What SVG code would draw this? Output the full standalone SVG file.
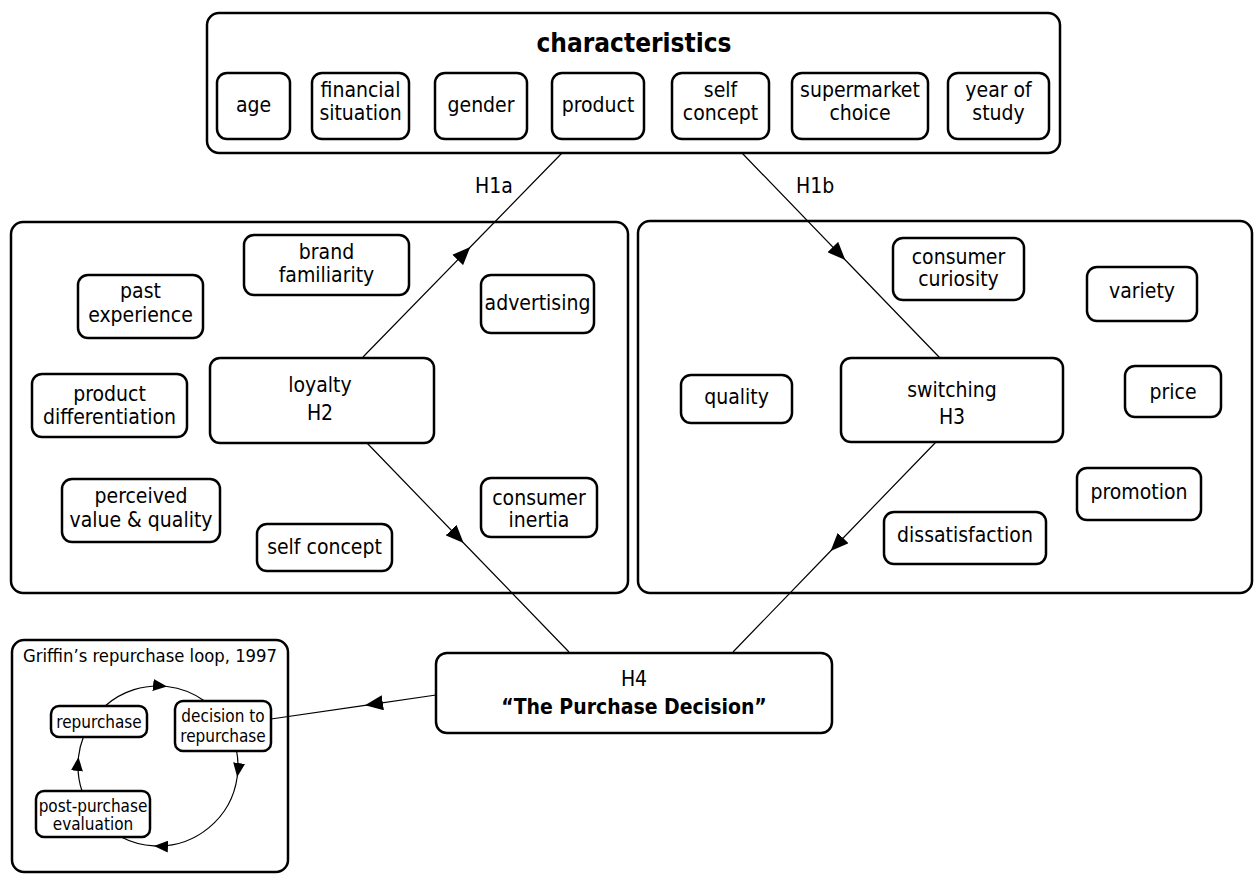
<svg xmlns="http://www.w3.org/2000/svg" width="1255" height="875" viewBox="0 0 1255 875">
<style>
.c{fill:none;stroke:#000;stroke-width:2.5}
.n{fill:#fff;stroke:#000;stroke-width:2.5}
.l{fill:none;stroke:#000;stroke-width:1.2}
text{font-family:"DejaVu Sans Condensed","Liberation Sans",sans-serif;fill:#000}
.t{font-size:21px;text-anchor:middle}
.h{font-size:21px}
.b{font-weight:bold;text-anchor:middle}
.s{font-size:17px;text-anchor:middle}
</style>
<defs>
<marker id="ah" markerUnits="userSpaceOnUse" markerWidth="18" markerHeight="15" viewBox="0 0 18 15" refX="18" refY="7.5" orient="auto"><path d="M0,0 L18,7.5 L0,15 z" fill="#000"/></marker>
<marker id="as" markerUnits="userSpaceOnUse" markerWidth="14" markerHeight="12" viewBox="0 0 14 12" refX="14" refY="6" orient="auto"><path d="M0,0 L14,6 L0,12 z" fill="#000"/></marker>
</defs>
<rect width="1255" height="875" fill="#fff"/>

<g id="containers">
<rect class="c" x="207" y="13" width="853" height="140" rx="12"/>
<rect class="c" x="11" y="222" width="617" height="371" rx="12"/>
<rect class="c" x="638" y="221" width="614" height="372" rx="12"/>
<rect class="c" x="12" y="640" width="276" height="232" rx="12"/>
</g>

<g id="connectors">
<path class="l" d="M363,357 L470.3,247 L562,153" marker-mid="url(#ah)"/>
<path class="l" d="M742,153 L845.3,260 L940,358" marker-mid="url(#ah)"/>
<path class="l" d="M367,443 L463.6,543 L569,652" marker-mid="url(#ah)"/>
<path class="l" d="M936,442 L830.6,551 L733,652" marker-mid="url(#ah)"/>
<path class="l" d="M436,695 L365,705.3 L271,719" marker-mid="url(#ah)"/>
<path class="l" d="M105.1,706 A80,80 0 0 1 167,686.5 A80,80 0 0 1 204.6,701" marker-mid="url(#as)"/>
<path class="l" d="M236.6,751 A80,80 0 0 1 237.2,777 A80,80 0 0 1 154,845.9 A80,80 0 0 1 121.1,837" marker-mid="url(#as)"/>
<path class="l" d="M82,791 A80,80 0 0 1 78.5,757 A80,80 0 0 1 83.4,737" marker-mid="url(#as)"/>
</g>

<g id="characteristics">
<text class="b" x="634" y="52" font-size="26">characteristics</text>
<text class="h" x="475" y="193">H1a</text>
<text class="h" x="796" y="193">H1b</text>
</g>
<g id="age"><rect class="n" x="217" y="73" width="73" height="66" rx="10"/><text class="t" x="253.5" y="112">age</text></g>
<g id="financial"><rect class="n" x="312" y="73" width="97" height="66" rx="10"/><text class="t" x="360.5" y="97">financial</text><text class="t" x="360.5" y="120">situation</text></g>
<g id="gender"><rect class="n" x="435" y="73" width="92" height="66" rx="10"/><text class="t" x="481" y="112">gender</text></g>
<g id="product"><rect class="n" x="552" y="73" width="92" height="66" rx="10"/><text class="t" x="598" y="112">product</text></g>
<g id="selfconcept1"><rect class="n" x="672" y="73" width="97" height="66" rx="10"/><text class="t" x="720.5" y="97">self</text><text class="t" x="720.5" y="120">concept</text></g>
<g id="supermarket"><rect class="n" x="792" y="73" width="136" height="66" rx="10"/><text class="t" x="860" y="97">supermarket</text><text class="t" x="860" y="120">choice</text></g>
<g id="year"><rect class="n" x="948" y="73" width="101" height="66" rx="10"/><text class="t" x="998.5" y="97">year of</text><text class="t" x="998.5" y="120">study</text></g>

<g id="brand"><rect class="n" x="244" y="235" width="165" height="60" rx="10"/><text class="t" x="326.5" y="259">brand</text><text class="t" x="326.5" y="282">familiarity</text></g>
<g id="past"><rect class="n" x="78" y="275" width="125" height="63" rx="10"/><text class="t" x="140.5" y="298">past</text><text class="t" x="140.5" y="322">experience</text></g>
<g id="advertising"><rect class="n" x="481" y="275" width="113" height="58" rx="10"/><text class="t" x="537.5" y="310">advertising</text></g>
<g id="proddiff"><rect class="n" x="32" y="374" width="155" height="63" rx="10"/><text class="t" x="109.5" y="401">product</text><text class="t" x="109.5" y="424">differentiation</text></g>
<g id="loyalty"><rect class="n" x="210" y="358" width="224" height="85" rx="10"/><text class="t" x="320" y="392">loyalty</text><text class="t" x="320" y="420">H2</text></g>
<g id="perceived"><rect class="n" x="62" y="479" width="158" height="63" rx="10"/><text class="t" x="141" y="503">perceived</text><text class="t" x="141" y="527">value &amp; quality</text></g>
<g id="inertia"><rect class="n" x="481" y="478" width="116" height="59" rx="10"/><text class="t" x="539" y="505">consumer</text><text class="t" x="539" y="527">inertia</text></g>
<g id="selfconcept2"><rect class="n" x="257" y="524" width="135" height="47" rx="10"/><text class="t" x="324.5" y="554">self concept</text></g>

<g id="curiosity"><rect class="n" x="893" y="238" width="131" height="62" rx="10"/><text class="t" x="958.5" y="264">consumer</text><text class="t" x="958.5" y="286">curiosity</text></g>
<g id="variety"><rect class="n" x="1087" y="267" width="110" height="54" rx="10"/><text class="t" x="1142" y="298">variety</text></g>
<g id="quality"><rect class="n" x="681" y="375" width="111" height="48" rx="10"/><text class="t" x="736.5" y="404">quality</text></g>
<g id="switching"><rect class="n" x="841" y="358" width="222" height="84" rx="10"/><text class="t" x="952" y="397">switching</text><text class="t" x="952" y="424">H3</text></g>
<g id="price"><rect class="n" x="1125" y="366" width="96" height="51" rx="10"/><text class="t" x="1173" y="399">price</text></g>
<g id="promotion"><rect class="n" x="1077" y="468" width="124" height="52" rx="10"/><text class="t" x="1139" y="499">promotion</text></g>
<g id="dissatisfaction"><rect class="n" x="884" y="512" width="162" height="52" rx="10"/><text class="t" x="965" y="542">dissatisfaction</text></g>

<g id="purchase"><rect class="n" x="436" y="653" width="396" height="80" rx="11"/><text class="t" x="634" y="686">H4</text><text class="b" x="634" y="714" font-size="21">“The Purchase Decision”</text></g>

<g id="griffin">
<text x="23" y="662" font-size="18.3">Griffin’s repurchase loop, 1997</text>
</g>
<g id="repurchase"><rect class="n" x="51" y="706" width="96" height="31" rx="8"/><text class="s" x="99" y="728">repurchase</text></g>
<g id="decision"><rect class="n" x="175" y="701" width="96" height="50" rx="8"/><text class="s" x="223" y="722">decision to</text><text class="s" x="223" y="742">repurchase</text></g>
<g id="postpurchase"><rect class="n" x="36" y="791" width="114" height="46" rx="8"/><text class="s" x="93" y="812">post-purchase</text><text class="s" x="93" y="830">evaluation</text></g>
</svg>
